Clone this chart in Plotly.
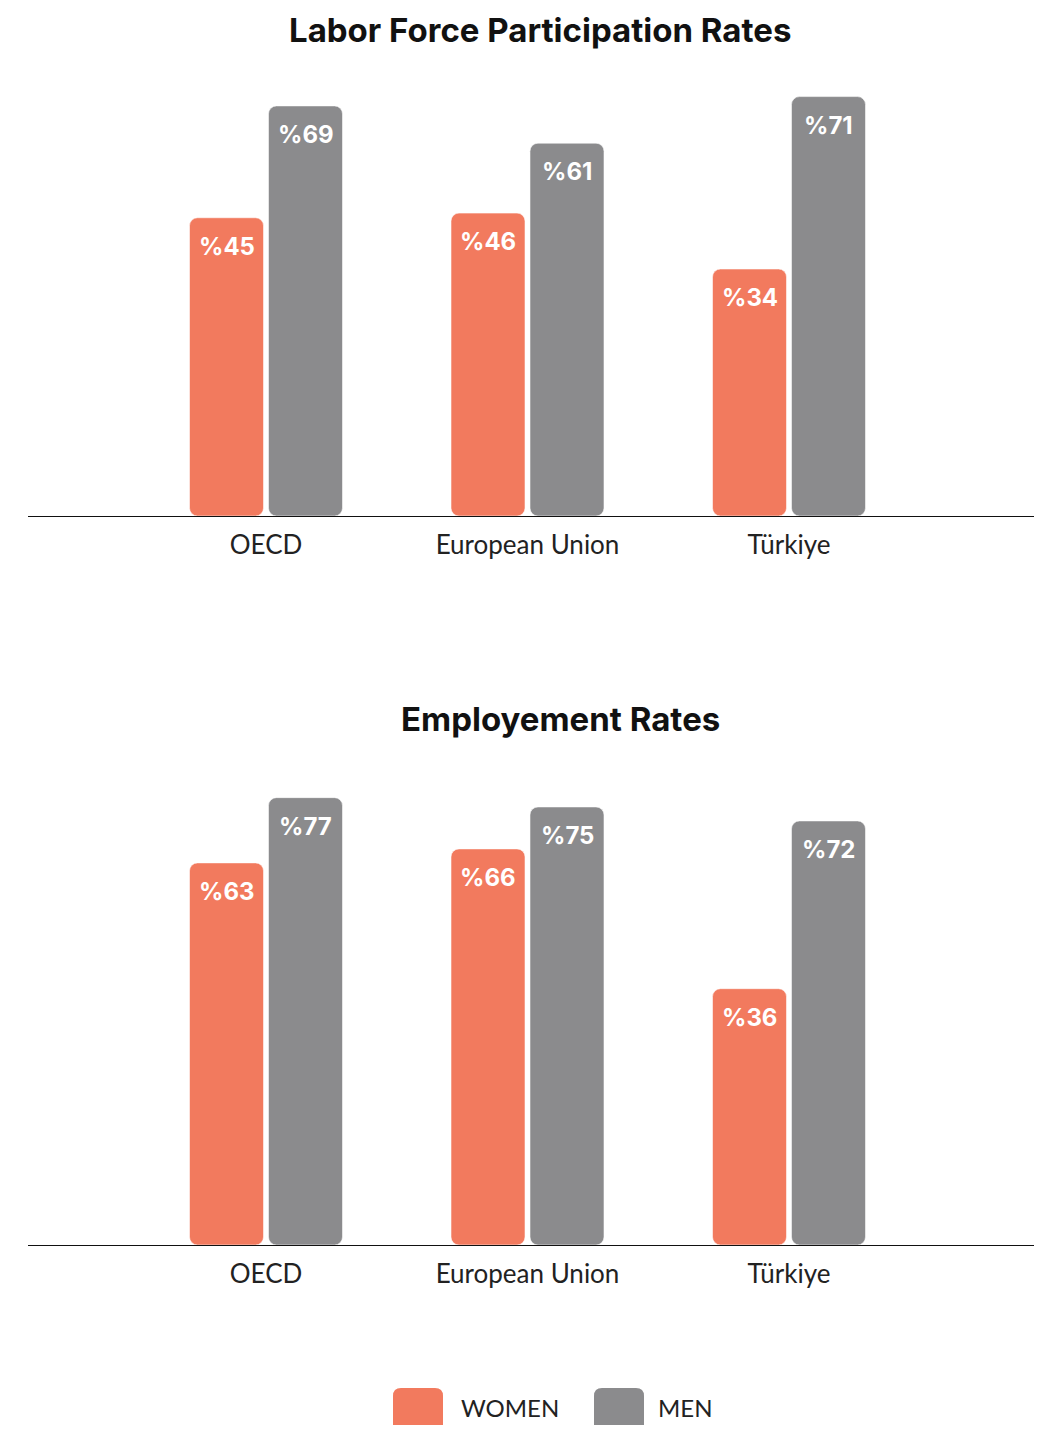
import plotly.graph_objects as go

# ---------------- data ----------------
categories = ["OECD", "European Union", "Türkiye"]
series_names = ["WOMEN", "MEN"]
lfp_women = [45, 46, 34]
lfp_men = [69, 61, 71]
emp_women = [63, 66, 36]
emp_men = [77, 75, 72]
chart_titles = ["Labor Force Participation Rates", "Employement Rates"]

# ---------------- style ----------------
PAGE_W, PAGE_H = 1042, 1433
OFF = 8                      # default page margin around the figure
W, H = PAGE_W - 2 * OFF, PAGE_H - 2 * OFF
L_MARGIN = 28 - OFF
COLORS = ["#F27A5E", "#8B8B8D"]
BASE = -19                   # axis floor the bars grow from
PX_PER_UNIT = 4.66
FONT = "Inter"
LABEL_FONT = "Lato"

# positions given in page pixels
panels = [
    dict(title_px=30, top_px=60, base_px=516, title_x=540),
    dict(title_px=719, top_px=790, base_px=1245, title_x=560),
]
data_sets = [(lfp_women, lfp_men), (emp_women, emp_men)]


def py(px):
    return 1 - (px - OFF) / H


def px_x(px):
    return (px - OFF - L_MARGIN) / (W - L_MARGIN)


fig = go.Figure()
annotations = []
layout_axes = {}

CAT0_PX = 266 - OFF
CAT_STEP_PX = 261.5
x_range = [(L_MARGIN - CAT0_PX) / CAT_STEP_PX, (W - CAT0_PX) / CAT_STEP_PX]
BAR_SHIFT = 39.5

for i, (panel, (women, men)) in enumerate(zip(panels, data_sets)):
    sfx = "" if i == 0 else str(i + 1)
    xa, ya = "x" + sfx, "y" + sfx
    for s, vals in enumerate((women, men)):
        fig.add_trace(go.Bar(
            x=categories,
            y=[v - BASE for v in vals],
            base=BASE,
            name=series_names[s],
            marker=dict(color=COLORS[s], line=dict(width=1, color="rgba(255,255,255,0.55)")),
            xaxis=xa, yaxis=ya,
            showlegend=False,
            hoverinfo="skip",
        ))
        for c, v in zip(categories, vals):
            annotations.append(dict(
                x=c, y=v, xref=xa, yref=ya,
                text="%" + str(v), showarrow=False,
                xshift=(-BAR_SHIFT if s == 0 else BAR_SHIFT),
                yanchor="top", yshift=-12,
                font=dict(family=FONT, size=24, color="white", weight=700),
            ))
    dom = [py(panel["base_px"]), py(panel["top_px"])]
    ymax = BASE + (panel["base_px"] - panel["top_px"]) / PX_PER_UNIT
    layout_axes["xaxis" + sfx] = dict(
        domain=[0, 1], anchor=ya, range=x_range, type="category",
        showline=True, linecolor="#111", linewidth=1.2,
        ticks="outside", ticklen=6, tickcolor="rgba(0,0,0,0)",
        tickfont=dict(family=LABEL_FONT, size=26, color="#222"),
        showgrid=False, zeroline=False, fixedrange=True,
    )
    layout_axes["yaxis" + sfx] = dict(
        domain=dom, anchor=xa, range=[BASE, ymax],
        visible=False, showgrid=False, zeroline=False, fixedrange=True,
    )
    annotations.append(dict(
        x=px_x(panel["title_x"]), y=py(panel["title_px"]), xref="paper", yref="paper",
        text=chart_titles[i], showarrow=False, xanchor="center", yanchor="middle",
        font=dict(family=FONT, size=33, color="#111", weight=700),
    ))

# ---------------- legend (custom swatches) ----------------
shapes = []
legend_items = [(393, 460), (594, 657)]
SW_W, SW_TOP, SW_BOT, R = 50, 1388, 1445, 8
for s, (sx, tx) in enumerate(legend_items):
    x0, x1 = px_x(sx), px_x(sx + SW_W)
    rx = R / (W - L_MARGIN)
    ry = R / H
    y_top, y_bot = py(SW_TOP), py(SW_BOT)
    path = (f"M{x0},{y_bot} L{x0},{y_top - ry} Q{x0},{y_top} {x0 + rx},{y_top} "
            f"L{x1 - rx},{y_top} Q{x1},{y_top} {x1},{y_top - ry} L{x1},{y_bot} Z")
    shapes.append(dict(type="path", path=path, xref="paper", yref="paper",
                       fillcolor=COLORS[s], line=dict(width=0)))
    annotations.append(dict(
        x=px_x(tx), y=py(1423), xref="paper", yref="paper",
        text=series_names[s], showarrow=False, xanchor="left", yanchor="bottom",
        borderpad=0,
        font=dict(family=LABEL_FONT, size=24, color="#222"),
    ))

fig.update_layout(
    width=W, height=H,
    margin=dict(l=L_MARGIN, r=0, t=0, b=0),
    paper_bgcolor="white", plot_bgcolor="white",
    barmode="group", bargap=0.396, bargroupgap=0.063,
    barcornerradius=8,
    annotations=annotations, shapes=shapes,
    showlegend=False,
    **layout_axes,
)

fig.write_html("out.html")
